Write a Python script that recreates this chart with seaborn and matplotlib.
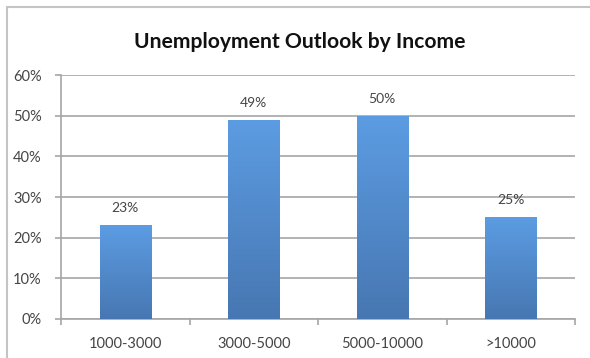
import numpy as np
import pandas as pd
import matplotlib
matplotlib.use("Agg")
import matplotlib.pyplot as plt
import seaborn as sns
from matplotlib.colors import LinearSegmentedColormap
from matplotlib.lines import Line2D
from matplotlib.ticker import FuncFormatter, FixedLocator

# Share of respondents expecting unemployment, by monthly income band
income_bands = ["1000-3000", "3000-5000", "5000-10000", ">10000"]
share_pct = [23, 49, 50, 25]
y_ticks_pct = [0, 10, 20, 30, 40, 50, 60]

df = pd.DataFrame({"band": income_bands, "share": share_pct})

sns.set_theme(style="white")
plt.rcParams["font.family"] = ["Lato", "DejaVu Sans"]

W, H = 590, 358
fig = plt.figure(figsize=(W / 100, H / 100), dpi=100)
ax = fig.add_axes([61 / W, 1 - 319 / H, (575 - 61) / W, (319 - 75) / H])

sns.barplot(data=df, x="band", y="share", ax=ax, color="#5490d6",
            width=0.4, saturation=1, edgecolor="none")

ax.set_xlim(-0.5, len(income_bands) - 0.5)
ax.set_ylim(0, 60)

# vertical gradient fill for each bar, with its value label above
grad_cmap = LinearSegmentedColormap.from_list("barfill", ["#4777b2", "#5c9ce2"])
grad = np.linspace(0, 1, 256).reshape(-1, 1)
for patch, val in zip(ax.patches, share_pct):
    x0, y0 = patch.get_x(), patch.get_y()
    w, h = patch.get_width(), patch.get_height()
    im = ax.imshow(grad, cmap=grad_cmap, origin="lower", aspect="auto",
                   extent=[x0, x0 + w, y0, y0 + h], zorder=3)
    im.set_clip_path(patch)
    patch.set_facecolor("none")
    ax.text(x0 + w / 2, y0 + h + 2.7, f"{val}%",
            ha="center", va="bottom", fontsize=10, color="#454545", zorder=4)

ax.set_xlim(-0.5, len(income_bands) - 0.5)
ax.set_ylim(0, 60)

grid_c = "#a6a6a6"
ax.set_yticks(y_ticks_pct)
ax.yaxis.set_major_formatter(FuncFormatter(lambda v, _: f"{v:.0f}%"))
ax.yaxis.grid(True, color=grid_c, linewidth=1.2)
ax.set_axisbelow(True)

ax.xaxis.set_minor_locator(FixedLocator(np.arange(-0.5, len(income_bands), 1.0)))
ax.tick_params(axis="x", which="major", length=0, pad=13, labelsize=10.5,
               labelcolor="#454545")
ax.tick_params(axis="x", which="minor", length=4, width=1.2, color=grid_c,
               direction="out", bottom=True)
ax.tick_params(axis="y", length=4, width=1.2, color=grid_c, direction="out",
               left=True, pad=10, labelsize=10.5, labelcolor="#454545")

for side in ["top", "right"]:
    ax.spines[side].set_visible(False)
for side in ["left", "bottom"]:
    ax.spines[side].set_color(grid_c)
    ax.spines[side].set_linewidth(1.2)

ax.set_xlabel("")
ax.set_ylabel("")

fig.text(300 / W, 1 - 42 / H, "Unemployment Outlook by Income",
         ha="center", va="center", fontsize=15.2, fontweight="bold", color="#111111")

# chart frame
frame_c = "#c4c4c4"
fig.add_artist(Line2D([7 / W, 7 / W], [0, 1 - 7 / H], transform=fig.transFigure,
                      color=frame_c, linewidth=1.5))
fig.add_artist(Line2D([7 / W, 1], [1 - 7 / H, 1 - 7 / H], transform=fig.transFigure,
                      color=frame_c, linewidth=1.5))

fig.savefig("out.png", dpi=100, facecolor="white")
